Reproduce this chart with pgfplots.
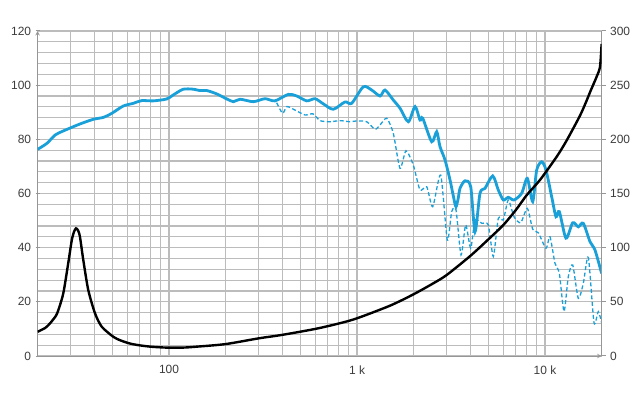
\documentclass[border=0pt]{standalone}
\usepackage{fontspec}
\setmainfont{Liberation Sans}
\usepackage{pgfplots}
\pgfplotsset{compat=1.18}
\definecolor{spl}{RGB}{26,160,216}
\definecolor{gridc}{RGB}{188,188,188}
\definecolor{axc}{RGB}{150,150,150}
\definecolor{lab}{RGB}{60,60,60}
\begin{document}
\begin{tikzpicture}
\useasboundingbox (0,0) rectangle (640bp,400bp);
\begin{axis}[
  at={(37.6bp,44bp)}, anchor=south west,
  scale only axis, width=564bp, height=325bp,
  xmode=log, xmin=20, xmax=20000,
  tick label style={font=\fontsize{12}{14}\selectfont, text=lab},
  /pgf/number format/assume math mode=true,
  tick align=outside, major tick length=4bp, minor tick length=0pt,
  axis line style={-, draw=axc, line width=1bp},
  ytick style={draw=axc, line width=1bp},
  axis x line=bottom, axis y line=left,
  ymin=0, ymax=120, ytick={0,20,...,120},
  minor ytick={4,8,12,16,24,28,32,36,44,48,52,56,64,68,72,76,84,88,92,96,104,108,112,116},
  xtick={100,1000,10000}, xticklabels={100,1 k,10 k},
  minor xtick={30,40,50,60,70,80,90,200,300,400,500,600,700,800,900,2000,3000,4000,5000,6000,7000,8000,9000,20000},
  xtick style={draw=none},
  grid=both,
  major grid style={draw=gridc, line width=1.1bp},
  minor grid style={draw=gridc, line width=1.1bp},
  xticklabel style={yshift=-4bp},
  yticklabel style={xshift=-1bp},
]
\addplot[spl, line width=2.8bp, smooth, tension=0.45] coordinates {
(20,76.3)(22.4,78.5)(24.8,81.6)(27.4,83.1)(33.7,85.7)(39.6,87.4)(44.7,88.1)(49.6,89.6)
(57.1,92.3)(64.6,93.3)(71.6,94.3)(82.5,94.2)(97.2,94.9)(105.4,96.4)(119,98.5)(135,98.5)
(146,98.0)(159,98.0)(179,96.8)(203,94.9)(220,93.9)(239,94.8)(281,93.9)(324,95.0)
(366,94.2)(431,96.6)(478,96)(540,94.2)(598,95)(662,93.1)(748,91.1)(863,93.8)(937,93.3)
(1080,99.4)(1197,98.2)(1326,96)(1409,98.2)(1560,94.5)(1693,91.5)(1875,86.5)(2035,92.1)
(2163,87.1)(2236,87.8)(2496,79.1)(2654,82.8)(2763,77.3)(2938,72.4)(3124,65)(3300,57)
(3362,55.1)(3450,58)(3531,61.9)(3754,64.7)(4025,62.5)(4244,45.9)(4511,60.1)(4796,61.9)
(5270,66.5)(5643,61.3)(6000,57.6)(6378,58.6)(6842,57.6)(7517,60.1)(8052,65.6)(8603,57)
(9032,68.7)(9603,71.7)(10120,68.7)(10850,58.8)(11440,51.4)(11920,53.3)(12930,43.5)
(14040,49.2)(15030,47.7)(15980,49)(17350,42.2)(18450,39.1)(20000,30.5)
};
\addplot[spl, line width=1.3bp, dash pattern=on 4bp off 2.5bp, smooth, tension=0.4] coordinates {
(374,93.5)(402,89.6)(424,92.1)(468,90.8)(529,89)(583,89.4)(636,86.9)(718,86.5)(812,86.9)
(918,86.5)(996,86.8)(1126,86.5)(1247,83.7)(1326,85.3)(1439,87.8)(1560,82.2)(1693,69.3)
(1822,75.8)(1993,70.5)(2163,61.3)(2349,62.5)(2527,55.1)(2787,66.8)(3022,42.8)(3189,53.3)
(3362,53.9)(3575,37.3)(3786,48.4)(4025,39.8)(4244,50.2)(4606,49)(4994,48.4)(5309,36.7)
(5643,50.8)(6000,50.2)(6378,57.6)(6842,51.4)(7425,49.2)(8052,54.5)(8603,46.8)(9212,45.5)
(10120,39.8)(10630,44)(11300,34.2)(11920,30.5)(12620,16.4)(13300,29.3)(14040,33.6)
(15030,21.3)(15980,26.8)(17000,36.4)(18220,12.3)(19210,16.4)(20000,12.3)
};
\end{axis}
\begin{axis}[
  at={(37.6bp,44bp)}, anchor=south west,
  scale only axis, width=564bp, height=325bp,
  xmode=log, xmin=20, xmax=20000,
  tick label style={font=\fontsize{12}{14}\selectfont, text=lab},
  /pgf/number format/assume math mode=true,
  tick align=outside, major tick length=4bp, minor tick length=0pt,
  axis line style={-, draw=axc, line width=1bp},
  ytick style={draw=axc, line width=1bp},
  axis x line=none, axis y line*=right,
  ymin=0, ymax=300, ytick={0,50,...,300},
  yticklabel style={xshift=1bp},
]
\addplot[black, line width=2.4bp, smooth, tension=0.45] coordinates {
(20,22.4)(22,26)(23.3,30.2)(25,37)(25.8,42.5)(27.4,57.9)(29.1,85.6)(30.4,107)(31.3,115)
(32.0,117.8)(32.8,116)(33.6,110)(35.0,88.6)(37.2,60.9)(40.4,39.4)(43.9,27)(50.5,17.8)
(55,14.5)(62,11.5)(70,9.8)(80,8.6)(90,8)(100,7.7)(120,7.8)(140,8.6)(200,11)(300,16.3)
(400,19.5)(600,25)(800,30)(1000,34.8)(1500,46.5)(2000,57)(2546,67.1)(3000,74.8)
(4000,92.3)(5000,107.7)(6000,120.9)(7000,134.8)(8000,148.6)(9400,162.5)(11540,184)
(13040,199)(15360,222)(16670,236)(17500,245)(18840,258)(19610,267)(20000,288)
};
\end{axis}
\end{tikzpicture}
\end{document}
